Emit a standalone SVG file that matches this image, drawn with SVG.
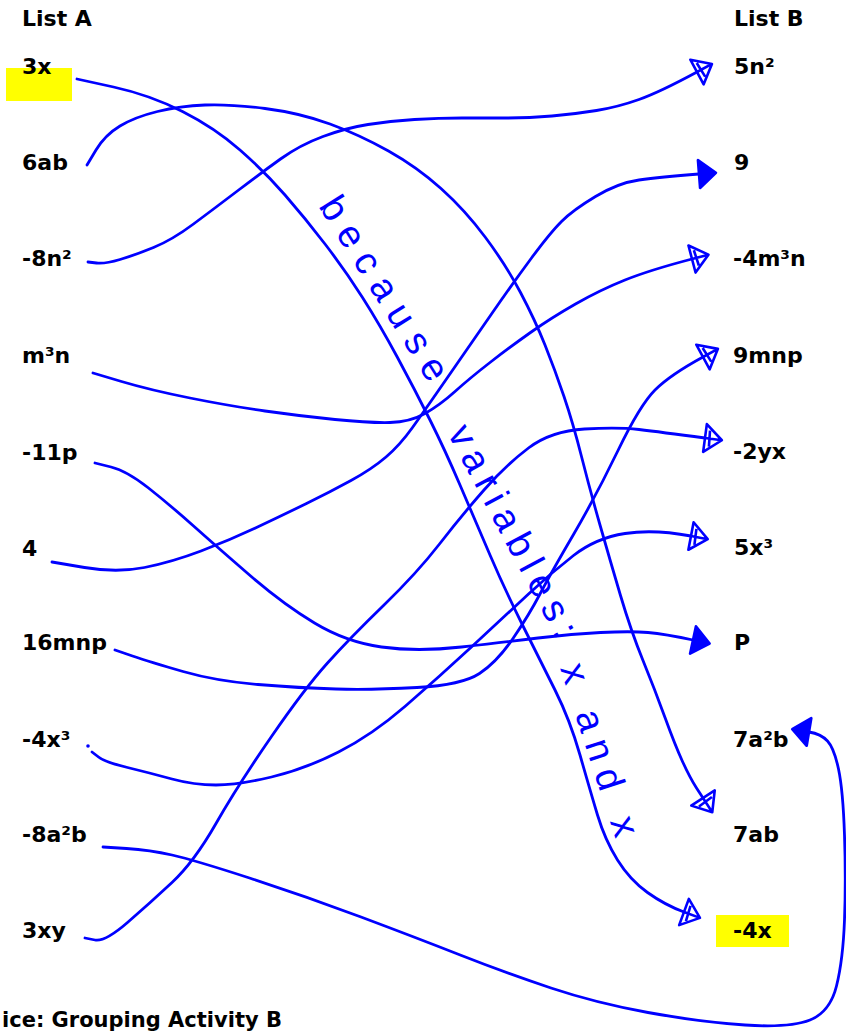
<svg xmlns="http://www.w3.org/2000/svg" width="846" height="1033" viewBox="0 0 846 1033">
<style>
.lbl{font-family:"DejaVu Sans","Liberation Sans",sans-serif;font-weight:bold;font-size:22px;fill:#000}
.ink{fill:none;stroke:#0000ff;stroke-width:2.8;stroke-linecap:round;stroke-linejoin:round}
.hand{font-family:"Liberation Sans","DejaVu Sans",sans-serif;font-size:38px;fill:#0000ff}
.hl{fill:#ffff00}
</style>
<defs>
<marker id="ah" viewBox="0 0 24 34" refX="3" refY="17" markerWidth="24" markerHeight="34" markerUnits="userSpaceOnUse" orient="auto">
<path d="M3,3 L20,17 L3,31 Z M3,17 L20,17 M7,9 L8,25" fill="none" stroke="#0000ff" stroke-width="2.6" stroke-linejoin="round"/>
</marker>
<marker id="ahs" viewBox="0 0 24 34" refX="3" refY="17" markerWidth="24" markerHeight="34" markerUnits="userSpaceOnUse" orient="auto">
<path d="M3,3 L20,17 L3,31 Z" fill="#0000ff" stroke="#0000ff" stroke-width="2.6" stroke-linejoin="round"/>
</marker>
</defs>
<rect width="846" height="1033" fill="#fff"/>

<g id="listA">
<text class="lbl" x="22" y="26">List A</text>
<g id="a-3x"><rect class="hl" x="6" y="68" width="66" height="33"/><text class="lbl" x="22" y="74">3x</text></g>
<g id="a-6ab"><text class="lbl" x="22" y="170">6ab</text></g>
<g id="a-8n2"><text class="lbl" x="22" y="266">-8n²</text></g>
<g id="a-m3n"><text class="lbl" x="22" y="363">m³n</text></g>
<g id="a-11p"><text class="lbl" x="22" y="460">-11p</text></g>
<g id="a-4"><text class="lbl" x="22" y="556">4</text></g>
<g id="a-16mnp"><text class="lbl" x="22" y="650">16mnp</text></g>
<g id="a-4x3"><text class="lbl" x="22" y="747">-4x³</text></g>
<g id="a-8a2b"><text class="lbl" x="22" y="842">-8a²b</text></g>
<g id="a-3xy"><text class="lbl" x="22" y="938">3xy</text></g>
</g>

<g id="listB">
<text class="lbl" x="734" y="26">List B</text>
<g id="b-5n2"><text class="lbl" x="734" y="74">5n²</text></g>
<g id="b-9"><text class="lbl" x="734" y="170">9</text></g>
<g id="b-4m3n"><text class="lbl" x="733" y="266">-4m³n</text></g>
<g id="b-9mnp"><text class="lbl" x="733" y="363">9mnp</text></g>
<g id="b-2yx"><text class="lbl" x="733" y="459">-2yx</text></g>
<g id="b-5x3"><text class="lbl" x="734" y="555">5x³</text></g>
<g id="b-P"><text class="lbl" x="734" y="650">P</text></g>
<g id="b-7a2b"><text class="lbl" x="733" y="747">7a²b</text></g>
<g id="b-7ab"><text class="lbl" x="733" y="842">7ab</text></g>
<g id="b-4x"><rect class="hl" x="716" y="915" width="73" height="32"/><text class="lbl" x="733" y="938">-4x</text></g>
</g>

<g id="connectors">
<path class="ink" marker-end="url(#ah)" d="M77,79 L113.5,87 Q150,95 182.5,111.5 Q215,128 240,150 Q265,172 285,195 Q305,218 325,244 Q345,270 362.5,297.5 Q380,325 397.5,357.5 Q415,390 430,420 Q445,450 460,485 Q475,520 490,555 Q505,590 522.5,625 Q540,660 555,690 Q570,720 580,755 Q590,790 597.5,815 Q605,840 617.5,860 Q630,880 647.5,892.5 Q665,905 684,912"/>
<path class="ink" marker-end="url(#ah)" d="M87,165 L96,150 Q105,135 120,126 Q135,117 157.5,111.5 Q180,106 205,105 Q230,104 265,108.5 Q300,113 330,124 Q360,135 388.5,151 Q417,167 441,188.5 Q465,210 485.5,237.5 Q506,265 520.5,292.5 Q535,320 545,345 Q555,370 564,396.5 Q573,423 581.5,456.5 Q590,490 600,525 Q610,560 620.5,595.5 Q631,631 643,660.5 Q655,690 665,717.5 Q675,745 682.5,761.5 Q690,778 696.5,788 L703,798"/>
<path class="ink" marker-end="url(#ah)" d="M88,262 L96.5,263 Q105,264 120,259.5 Q135,255 153.5,247.5 Q172,240 193.5,224 Q215,208 238,190.5 Q261,173 280.5,159 Q300,145 323,136.5 Q346,128 368,124.5 Q390,121 414.5,119.5 Q439,118 462,118 Q485,118 507,118 Q529,118 552,116 Q575,114 596.5,110.5 Q618,107 639,99.5 Q660,92 697,72"/>
<path class="ink" marker-end="url(#ah)" d="M93,373 L121.5,381.5 Q150,390 190,398 Q230,406 265,411 Q300,416 335,419.5 Q370,423 390,422.5 Q410,422 425,413.5 Q440,405 455,391.5 Q470,378 490,362.5 Q510,347 530.5,332.5 Q551,318 575.5,304 Q600,290 625,280 Q650,270 692,259"/>
<path class="ink" marker-end="url(#ahs)" d="M95,463 L111,467 Q127,471 148.5,488 Q170,505 193,525.5 Q216,546 249.5,575 Q283,604 314.5,623 Q346,642 381.5,647 Q417,652 461.5,647 Q506,642 538,638 Q570,634 600.5,632.5 Q631,631 648,632.5 Q665,634 693,640"/>
<path class="ink" marker-end="url(#ahs)" d="M52,562 L84.5,567.5 Q117,573 144.5,567.5 Q172,562 201,551 Q230,540 256.5,527.5 Q283,515 306.5,503.5 Q330,492 351,480.5 Q372,469 386,457 Q400,445 412.5,427.5 Q425,410 447.5,377.5 Q470,345 491.5,314 Q513,283 531.5,258 Q550,233 561.5,221.5 Q573,210 595.5,196.5 Q618,183 639,180 Q660,177 699,174"/>
<path class="ink" marker-end="url(#ah)" d="M115,650 L132.5,656 Q150,662 183,671.5 Q216,681 258,684.5 Q300,688 336,689 Q372,690 417,687.5 Q462,685 479.5,673.5 Q497,662 513,638.5 Q529,615 540,594 Q551,573 573.5,534.5 Q596,496 618,450.5 Q640,405 655,390 Q670,375 703,357"/>
<circle cx="88" cy="746" r="1.8" fill="#0000ff"/>
<path class="ink" marker-end="url(#ah)" d="M92,752 L98.5,757 Q105,762 127.5,767.5 Q150,773 172,779 Q194,785 216,785 Q238,785 271.5,777 Q305,769 338.5,752 Q372,735 405.5,706 Q439,677 472.5,646 Q506,615 528.5,594 Q551,573 573.5,555.5 Q596,538 625,533.5 Q654,529 691,536"/>
<path class="ink" marker-end="url(#ah)" d="M85,938 L95,940 Q105,942 127.5,922.5 Q150,903 172,882.5 Q194,862 216,823.5 Q238,785 271.5,736.5 Q305,688 327.5,663 Q350,638 383.5,605.5 Q417,573 439.5,544 Q462,515 484,490 Q506,465 528.5,448 Q551,431 584.5,429 Q618,427 639,429.5 Q660,432 705,438"/>
<path class="ink" marker-end="url(#ahs)" d="M103,847 L126.5,848.5 Q150,850 172,855 Q194,860 249.5,878 Q305,896 361,917 Q417,938 461.5,955.5 Q506,973 551,988 Q596,1003 648,1012.5 Q700,1022 745,1025 Q790,1028 810,1020 Q830,1012 836.5,986 Q843,960 844.5,920 Q846,880 844.5,835 Q843,790 838.5,769 Q834,748 827.5,741 Q821,734 809,732"/>
</g>

<g id="note">
<text class="hand" x="318" y="206" transform="rotate(58 318 206)" textLength="210" lengthAdjust="spacing">because</text>
<text class="hand" x="447" y="433" transform="rotate(62 447 433)" textLength="235" lengthAdjust="spacing">variables:</text>
<text class="hand" x="560" y="668" transform="rotate(72 560 668)" textLength="180" lengthAdjust="spacing">x and x</text>
</g>

<text class="lbl" x="2" y="1027" style="font-size:21px">ice: Grouping Activity B</text>
</svg>
